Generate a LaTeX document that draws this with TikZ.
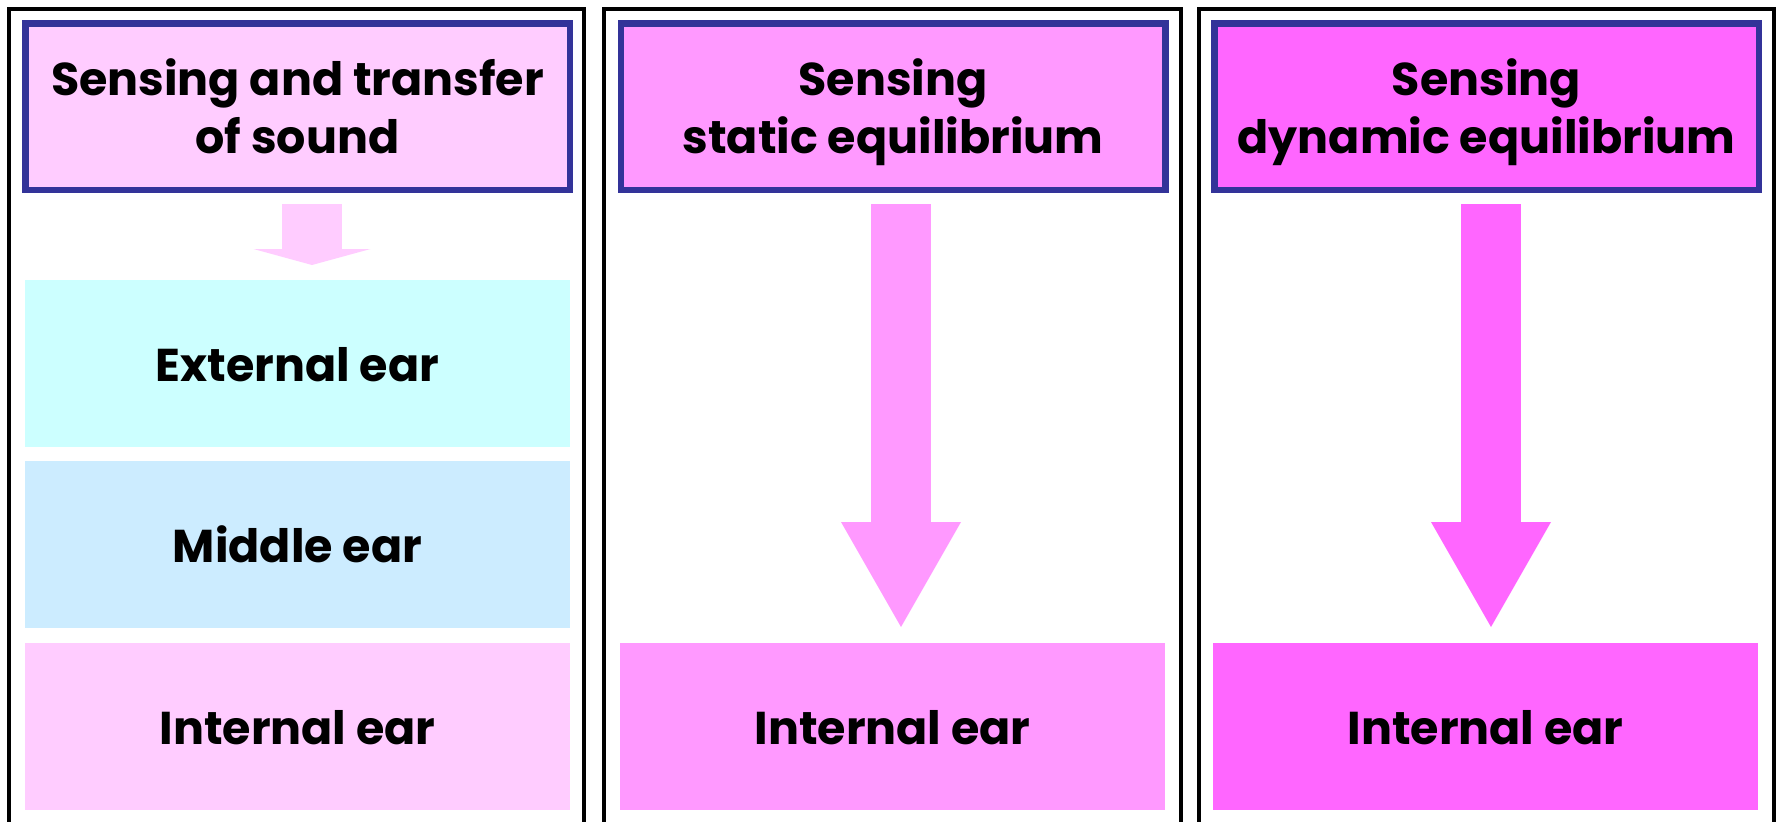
\documentclass[tikz,border=0pt]{standalone}
\usepackage{fontspec}
\setmainfont{Poppins}
\usetikzlibrary{arrows.meta}
\definecolor{navy}{HTML}{333399}
\definecolor{pinkA}{HTML}{FFCCFF}
\definecolor{pinkB}{HTML}{FF99FF}
\definecolor{pinkC}{HTML}{FF66FF}
\definecolor{cyanA}{HTML}{CCFFFF}
\definecolor{blueA}{HTML}{CCECFF}
\begin{document}
\begin{tikzpicture}[x=1pt,y=-1pt,
  lbl/.style={font=\fontsize{46}{58}\selectfont\bfseries, text=black},
  panel/.style={draw=black, line width=4pt},
  titlebox/.style={lbl, draw=navy, line width=6.5pt, minimum width=544.5pt, minimum height=166.5pt,
    inner sep=0pt, align=center, text height=93pt, text depth=0pt},
  earbox/.style={lbl, minimum width=545pt, minimum height=167pt, inner sep=0pt, outer sep=0pt,
    text height=36pt, text depth=0pt},
  flow/.style 2 args={line width=60pt, -{Triangle[length=#1, width=#2, line width=0pt]}},
]
\clip (0,0) rectangle (1781,822);
\fill[white] (0,0) rectangle (1781,822);

% panels
\draw[panel] (8.5,8.5) rectangle (583.5,840);
\draw[panel] (603.5,8.5) rectangle (1180.5,840);
\draw[panel] (1198.5,8.5) rectangle (1774,840);

% titles
\node[titlebox, fill=pinkA] (t1) at (297.5,106.5) {Sensing and transfer\\of sound};
\node[titlebox, fill=pinkB] (t2) at (893,106.5) {Sensing\\static equilibrium};
\node[titlebox, fill=pinkC] (t3) at (1486.5,106.5) {Sensing\\dynamic equilibrium};

% ear boxes
\node[earbox, fill=cyanA] (ext) at (297.5,363.5) {External ear};
\node[earbox, fill=blueA] (mid) at (297.5,544.5) {Middle ear};
\node[earbox, fill=pinkA] (int1) at (297.5,726.5) {Internal ear};
\node[earbox, fill=pinkB] (int2) at (892.5,726.5) {Internal ear};
\node[earbox, fill=pinkC] (int3) at (1485.5,726.5) {Internal ear};

% arrows
\coordinate (x1) at (312,0);
\coordinate (x2) at (901,0);
\coordinate (x3) at (1491,0);
\draw[flow={16pt}{117pt}, pinkA, shorten <=11pt, shorten >=15pt] (t1.south -| x1) -- (ext.north -| x1);
\draw[flow={105pt}{120pt}, pinkB, shorten <=11pt, shorten >=16pt] (t2.south -| x2) -- (int2.north -| x2);
\draw[flow={105pt}{120pt}, pinkC, shorten <=11pt, shorten >=16pt] (t3.south -| x3) -- (int3.north -| x3);
\end{tikzpicture}
\end{document}
